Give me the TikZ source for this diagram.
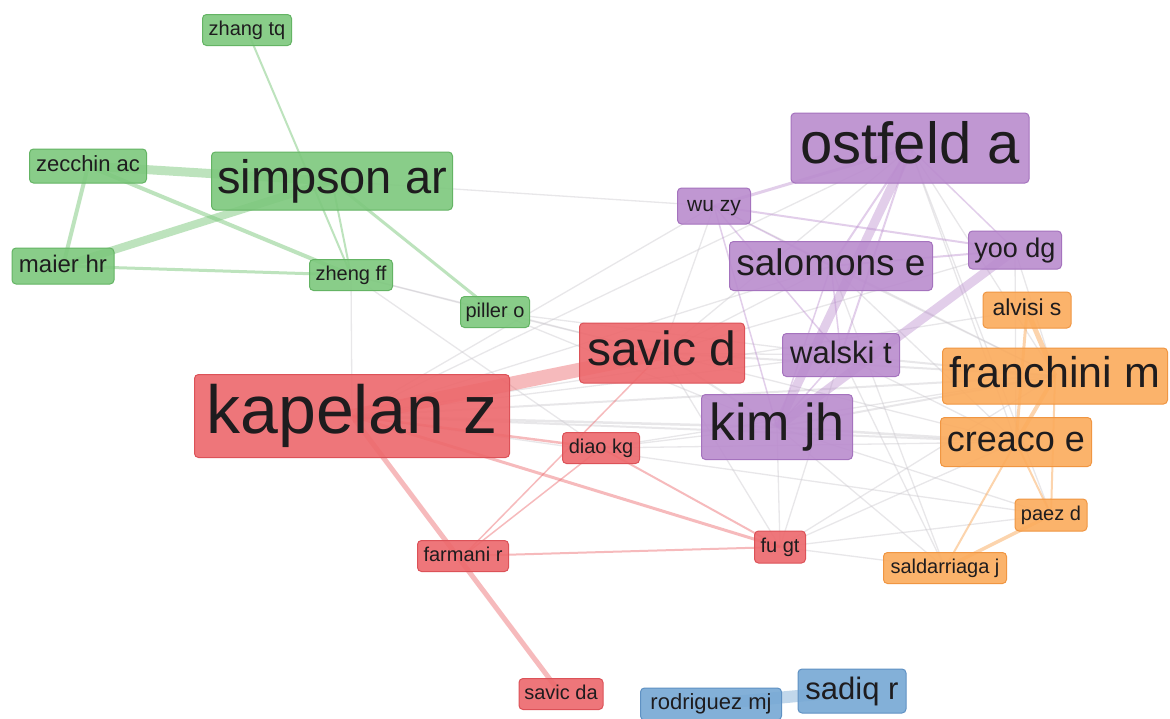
\documentclass[tikz,border=0pt]{standalone}
\usepackage{fontspec}
\setmainfont{Liberation Sans}
\usetikzlibrary{backgrounds}
\definecolor{gF}{RGB}{125,200,125}\definecolor{gD}{RGB}{100,180,100}
\definecolor{pF}{RGB}{186,140,206}\definecolor{pD}{RGB}{165,115,190}
\definecolor{rF}{RGB}{237,104,108}\definecolor{rD}{RGB}{220,82,88}
\definecolor{oF}{RGB}{251,171,92}\definecolor{oD}{RGB}{240,150,66}
\definecolor{bF}{RGB}{118,168,212}\definecolor{bD}{RGB}{95,145,195}
\definecolor{txt}{RGB}{30,28,30}
\definecolor{gE}{RGB}{205,202,208}
\newcommand\fs[1]{\fontsize{#1}{#1}\selectfont}
\tikzset{
  vnode/.style={rounded corners=4pt, line width=1pt, inner sep=0pt, text=txt, fill opacity=0.9, text opacity=1},
  gn/.style={vnode, fill=gF, draw=gD},
  pn/.style={vnode, fill=pF, draw=pD},
  rn/.style={vnode, fill=rF, draw=rD},
  on/.style={vnode, fill=oF, draw=oD},
  bn/.style={vnode, fill=bF, draw=bD},
  sz/.style n args={3}{minimum width=#1pt, minimum height=#2pt, font=\fs{#3},
     text height=\dimexpr #3pt*72/100\relax, text depth=\dimexpr #3pt*20/100\relax},
  ge/.style={draw=gE, line width=#1pt, opacity=0.45},
  ge/.default=1.3,
  gre/.style={draw=gF, line width=#1pt, opacity=0.5},
  pe/.style={draw=pF, line width=#1pt, opacity=0.42},
  re/.style={draw=rF, line width=#1pt, opacity=0.45},
  oe/.style={draw=oF, line width=#1pt, opacity=0.5},
  be/.style={draw=bF, line width=#1pt, opacity=0.45},
}
\newcommand\lnk[3]{\draw[#1] (#2.center) -- (#3.center);}
\begin{document}
\begin{tikzpicture}[x=1pt,y=-1pt]
\useasboundingbox (0,0) rectangle (1170,718);
% nodes
\node[gn, sz={89}{31}{20}] (zhangtq) at (247,30) {zhang tq};
\node[gn, sz={117}{34}{22}] (zecchin) at (88,166) {zecchin ac};
\node[gn, sz={241}{58}{47}] (simpson) at (332,181) {simpson ar};
\node[gn, sz={102}{36}{24}] (maier) at (63,266) {maier hr};
\node[gn, sz={83}{31}{20}] (zheng) at (351,275) {zheng ff};
\node[gn, sz={69}{31}{20}] (piller) at (495,312) {piller o};
\node[pn, sz={238}{70}{58}] (ostfeld) at (910,148) {ostfeld a};
\node[pn, sz={73}{36}{21}] (wuzy) at (714,206) {wu zy};
\node[pn, sz={203}{49}{37}] (salomons) at (831,266) {salomons e};
\node[pn, sz={93}{38}{27}] (yoodg) at (1015,250) {yoo dg};
\node[on, sz={88}{36}{23}] (alvisi) at (1027,310) {alvisi s};
\node[rn, sz={165}{60}{48}] (savicd) at (662,353) {savic d};
\node[pn, sz={117}{43}{31}] (walski) at (841,355) {walski t};
\node[on, sz={225}{56}{43}] (franchini) at (1055,376) {franchini m};
\node[pn, sz={151}{65}{52}] (kimjh) at (777,427) {kim jh};
\node[on, sz={151}{49}{36}] (creaco) at (1016,442) {creaco e};
\node[rn, sz={315}{83}{68}] (kapelan) at (352,416) {kapelan z};
\node[rn, sz={77}{31}{20}] (diao) at (601,448) {diao kg};
\node[rn, sz={91}{31}{20}] (farmani) at (463,556) {farmani r};
\node[rn, sz={51}{32}{20}] (fugt) at (780,547) {fu gt};
\node[on, sz={72}{32}{20}] (paez) at (1051,515) {paez d};
\node[on, sz={123}{31}{20}] (saldarriaga) at (945,568) {saldarriaga j};
\node[rn, sz={84}{31}{20}] (savicda) at (561,694) {savic da};
\node[bn, sz={141}{32}{22}] (rodriguez) at (711,704) {rodriguez mj};
\node[bn, sz={108}{44}{31}] (sadiq) at (852,691) {sadiq r};
\begin{pgfonlayer}{background}
\fill[white] (0,0) rectangle (1170,718);
% gray inter-cluster links
\lnk{ge}{simpson}{wuzy}
\lnk{ge}{zheng}{piller}
\lnk{ge}{zheng}{kapelan}
\lnk{ge}{zheng}{savicd}
\lnk{ge}{zheng}{diao}
\lnk{ge}{piller}{savicd}
\lnk{ge}{piller}{kimjh}
\lnk{ge}{piller}{walski}
\lnk{ge}{kapelan}{wuzy}
\lnk{ge}{kapelan}{salomons}
\lnk{ge}{kapelan}{ostfeld}
\lnk{ge}{kapelan}{walski}
\lnk{ge=2.5}{kapelan}{kimjh}
\lnk{ge=2}{kapelan}{franchini}
\lnk{ge=2}{kapelan}{creaco}
\lnk{ge}{kapelan}{alvisi}
\lnk{ge}{kapelan}{paez}
\lnk{ge}{savicd}{wuzy}
\lnk{ge}{savicd}{salomons}
\lnk{ge}{savicd}{ostfeld}
\lnk{ge}{savicd}{walski}
\lnk{ge=2}{savicd}{kimjh}
\lnk{ge=2}{savicd}{franchini}
\lnk{ge}{savicd}{creaco}
\lnk{ge}{savicd}{fugt}
\lnk{ge}{savicd}{yoodg}
\lnk{ge}{diao}{kimjh}
\lnk{ge}{diao}{franchini}
\lnk{ge}{diao}{creaco}
\lnk{ge=2}{kimjh}{franchini}
\lnk{ge=2.5}{kimjh}{creaco}
\lnk{ge}{kimjh}{fugt}
\lnk{ge}{kimjh}{saldarriaga}
\lnk{ge}{kimjh}{paez}
\lnk{ge=2}{walski}{franchini}
\lnk{ge}{walski}{creaco}
\lnk{ge}{walski}{fugt}
\lnk{ge}{walski}{saldarriaga}
\lnk{ge}{salomons}{franchini}
\lnk{ge}{salomons}{creaco}
\lnk{ge}{salomons}{saldarriaga}
\lnk{ge}{ostfeld}{franchini}
\lnk{ge}{ostfeld}{creaco}
\lnk{ge}{ostfeld}{paez}
\lnk{ge}{yoodg}{creaco}
\lnk{ge}{yoodg}{franchini}
\lnk{ge}{fugt}{creaco}
\lnk{ge}{fugt}{franchini}
\lnk{ge}{fugt}{paez}
\lnk{ge}{fugt}{saldarriaga}
\lnk{ge}{wuzy}{franchini}
% green cluster
\lnk{gre=9}{zecchin}{simpson}
\lnk{gre=8}{maier}{simpson}
\lnk{gre=4}{zecchin}{maier}
\lnk{gre=4}{zecchin}{zheng}
\lnk{gre=3}{maier}{zheng}
\lnk{gre=2}{zhangtq}{zheng}
\lnk{gre=2}{simpson}{zheng}
\lnk{gre=3}{simpson}{piller}
% purple cluster
\lnk{pe=9}{ostfeld}{kimjh}
\lnk{pe=9}{yoodg}{kimjh}
\lnk{pe=3}{ostfeld}{wuzy}
\lnk{pe=2}{ostfeld}{salomons}
\lnk{pe=2}{ostfeld}{walski}
\lnk{pe=1.5}{ostfeld}{yoodg}
\lnk{pe=2}{wuzy}{yoodg}
\lnk{pe=1.5}{wuzy}{salomons}
\lnk{pe=1.5}{wuzy}{walski}
\lnk{pe=1.5}{wuzy}{kimjh}
\lnk{pe=2}{salomons}{yoodg}
\lnk{pe=1.5}{salomons}{kimjh}
\lnk{pe=1.5}{salomons}{walski}
\lnk{pe=1.5}{walski}{kimjh}
% red cluster
\lnk{re=14}{kapelan}{savicd}
\lnk{re=5}{kapelan}{savicda}
\lnk{re=2.5}{kapelan}{diao}
\lnk{re=3}{kapelan}{fugt}
\lnk{re=1.5}{savicd}{farmani}
\lnk{re=1.5}{diao}{farmani}
\lnk{re=2}{diao}{fugt}
\lnk{re=2}{farmani}{fugt}
% orange cluster
\lnk{oe=5}{alvisi}{franchini}
\lnk{oe=4}{franchini}{creaco}
\lnk{oe=3}{alvisi}{creaco}
\lnk{oe=2}{creaco}{saldarriaga}
\lnk{oe=2}{creaco}{paez}
\lnk{oe=2}{franchini}{paez}
\lnk{oe=3.5}{paez}{saldarriaga}
% blue cluster
\lnk{be=12}{rodriguez}{sadiq}
\end{pgfonlayer}
\end{tikzpicture}
\end{document}
